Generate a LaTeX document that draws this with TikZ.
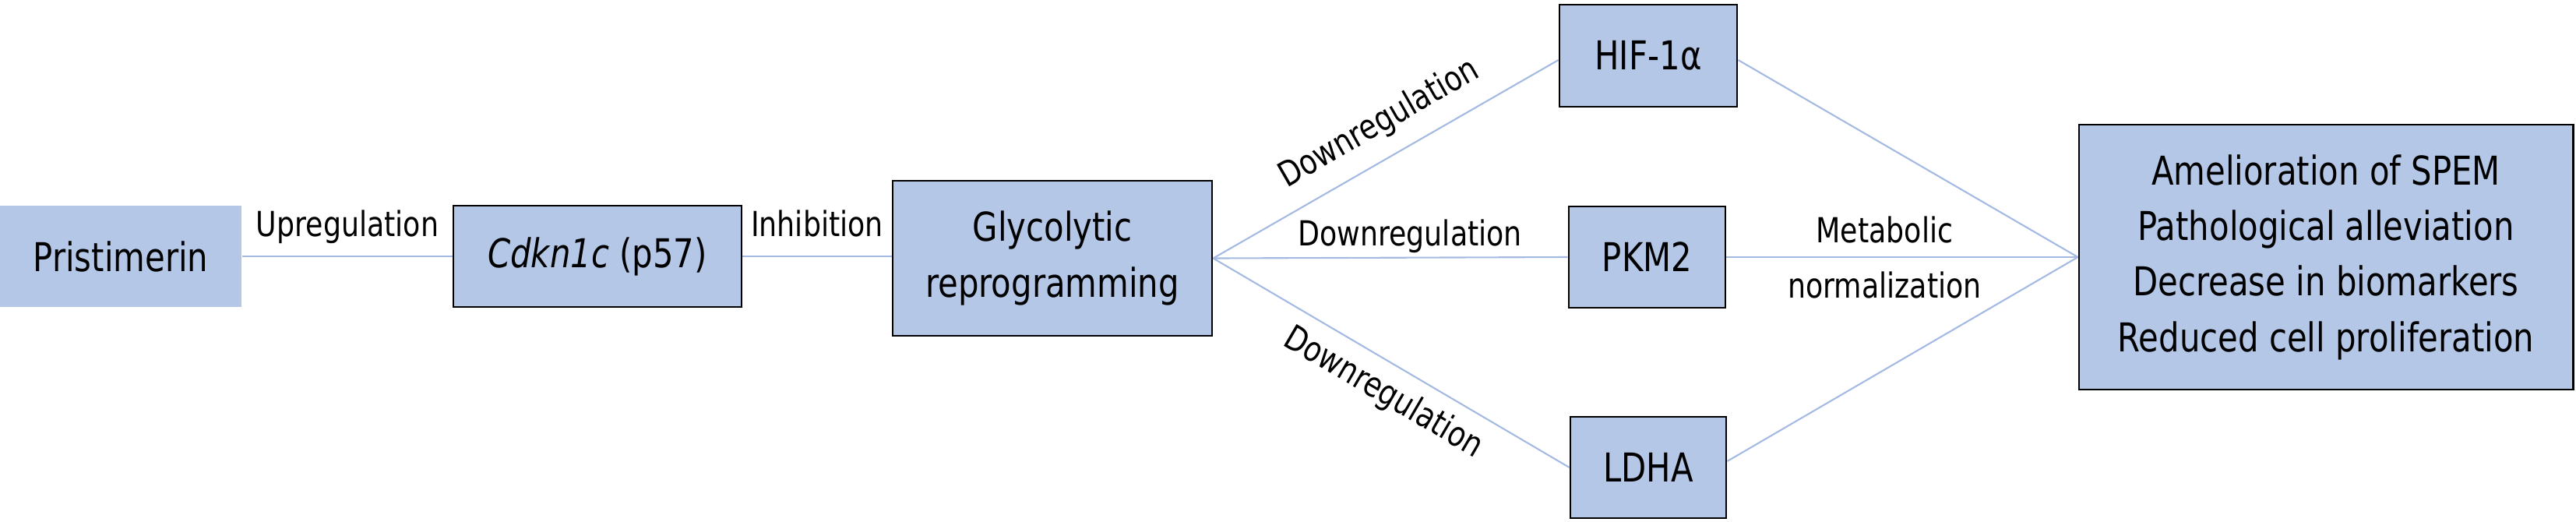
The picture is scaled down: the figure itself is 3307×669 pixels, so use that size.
\documentclass[tikz,border=0pt]{standalone}
\usepackage{fontspec}
\setmainfont[FakeStretch=0.82]{DejaVu Sans}
\definecolor{boxblue}{RGB}{180,199,231}
\definecolor{linkblue}{RGB}{165,186,226}
\newcommand\boxfont{\fontsize{14.5}{20.3}\selectfont}
\newcommand\lblfont{\fontsize{12.6}{20.2}\selectfont}
\begin{document}
\begin{tikzpicture}[x=0.01cm,y=-0.01cm,
  box/.style={draw=black, line width=0.75pt, fill=boxblue, align=center,
    font=\boxfont, inner sep=0pt},
  plainbox/.style={box, draw=none},
  conn/.style={draw=linkblue, line width=0.6pt},
  lbl/.style={font=\lblfont, inner sep=0pt, anchor=base},
  lbltwo/.style={font=\lblfont, inner sep=0pt, align=center, anchor=center}]
\useasboundingbox (0,0) rectangle (3307,669);

\node[plainbox, minimum width=3.10cm, minimum height=1.30cm] (pri) at (155,329) {Pristimerin};
\node[box, minimum width=3.70cm, minimum height=1.30cm] (cdk) at (767,329) {\textit{Cdkn1c} (p57)};
\node[box, minimum width=4.10cm, minimum height=1.99cm] (gly) at (1351,331.5) {Glycolytic\\reprogramming};
\node[box, minimum width=2.28cm, minimum height=1.31cm] (hif) at (2116,71.5) {HIF-1α};
\node[box, minimum width=2.01cm, minimum height=1.30cm] (pkm) at (2114.5,330) {PKM2};
\node[box, minimum width=2.00cm, minimum height=1.30cm] (ldha) at (2116,600) {LDHA};
\node[box, minimum width=6.34cm, minimum height=3.40cm] (out) at (2986,330)
  {Amelioration of SPEM\\Pathological alleviation\\Decrease in biomarkers\\Reduced cell proliferation};

\draw[conn] (pri.east) -- (cdk.west) node[lbl, midway, yshift=0.25cm] {Upregulation};
\draw[conn] (cdk.east) -- (cdk.east -| gly.west) node[lbl, midway, yshift=0.25cm] {Inhibition};
\draw[conn] (gly.east) -- ([yshift=-0.055cm]hif.west) node[lbl, sloped, pos=0.53, yshift=0.31cm] {Downregulation};
\draw[conn] (gly.east) -- (pkm.west) node[lbl, pos=0.555, yshift=0.15cm] {Downregulation};
\draw[conn] (gly.east) -- (ldha.west) node[lbl, sloped, pos=0.52, yshift=-0.51cm] {Downregulation};

\draw[conn] ([yshift=-0.055cm]hif.east) -- (out.west);
\draw[conn] (pkm.east) -- (out.west) node[lbltwo, pos=0.45] {Metabolic\\normalization};
\draw[conn] ([yshift=0.08cm]ldha.east) -- (out.west);
\end{tikzpicture}
\end{document}
